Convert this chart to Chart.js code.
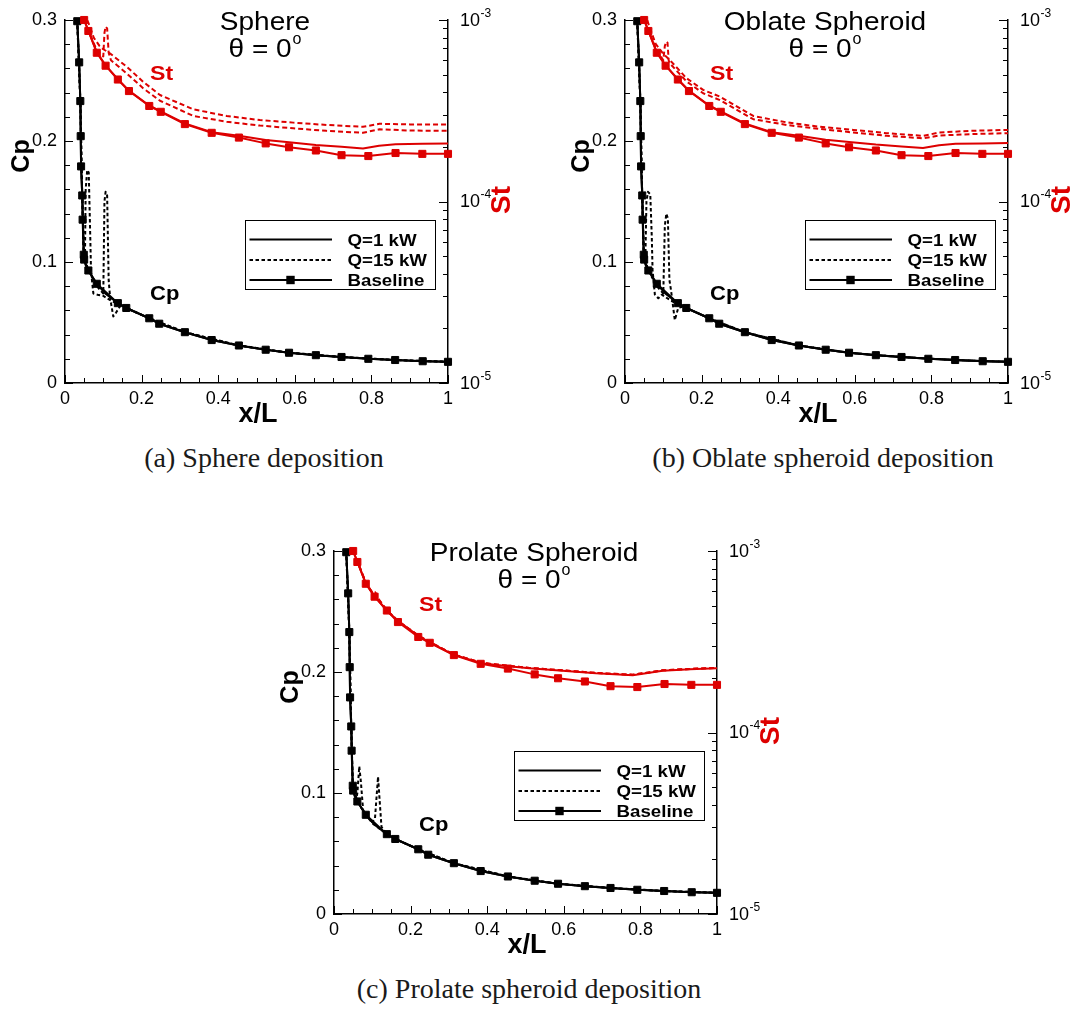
<!DOCTYPE html>
<html><head><meta charset="utf-8">
<script src="https://cdn.jsdelivr.net/npm/chart.js@4.4.0/dist/chart.umd.min.js"></script>
<style>
html,body{margin:0;padding:0;background:#fff;}
body{width:1082px;height:1011px;position:relative;overflow:hidden;}
.panel{position:absolute;width:520px;height:430px;}
.cap{position:absolute;font-family:"Liberation Serif","Times New Roman",serif;font-size:28px;line-height:28px;color:#1a1a1a;white-space:nowrap;transform:translateX(-50%);}
</style></head><body>
<div class="panel" style="left:0;top:0"><canvas id="ca" width="520" height="430"></canvas></div>
<div class="panel" style="left:560px;top:0"><canvas id="cb" width="520" height="430"></canvas></div>
<div class="panel" style="left:269px;top:531px"><canvas id="cc" width="520" height="430"></canvas></div>
<div class="cap" style="left:264px;top:444px">(a) Sphere deposition</div>
<div class="cap" style="left:823px;top:444px">(b) Oblate spheroid deposition</div>
<div class="cap" style="left:529px;top:975px">(c) Prolate spheroid deposition</div>
<script>
// ---------------- data ----------------
const panelTitles = ['Sphere', 'Oblate Spheroid', 'Prolate Spheroid'];
const legendLabels = ['Q=1 kW', 'Q=15 kW', 'Baseline'];
const xTicks = [0, 0.2, 0.4, 0.6, 0.8, 1];
const cpTicks = [0, 0.1, 0.2, 0.3];
const stDecades = [-5, -4, -3];

// Cp baseline (same for all panels)
const cpBaseX = [0.032,0.037,0.040,0.041,0.042,0.045,0.046,0.049,0.050,0.061,0.083,0.138,0.160,0.220,0.246,0.313,0.383,0.454,0.524,0.585,0.655,0.722,0.792,0.862,0.934,1.000];
const cpBase  = [0.299,0.265,0.233,0.204,0.179,0.155,0.135,0.106,0.102,0.093,0.082,0.066,0.062,0.0535,0.049,0.042,0.0355,0.031,0.0275,0.025,0.023,0.0215,0.020,0.019,0.018,0.0175];
// Cp Q=1 kW
const cpQ1X = [0.029,0.032,0.037,0.040,0.042,0.045,0.049,0.053,0.061,0.083,0.105,0.138,0.160,0.220,0.246,0.313,0.383,0.454,0.524,0.585,0.655,0.722,0.792,0.862,0.934,1.000];
const cpQ1  = [0.330,0.299,0.265,0.233,0.179,0.155,0.106,0.098,0.093,0.082,0.074,0.066,0.062,0.0535,0.049,0.042,0.0355,0.031,0.0275,0.025,0.023,0.0215,0.020,0.019,0.018,0.0175];
// Cp Q=15 kW, panel (a)
const cpQ15aX1 = [0.029,0.032,0.040,0.045,0.049,0.052,0.054,0.058,0.062,0.066,0.068,0.074,0.085,0.100,0.120,0.140,0.160,0.220,0.313,0.454,0.585,0.722,0.862,1.000];
const cpQ15a1  = [0.330,0.299,0.233,0.155,0.106,0.100,0.160,0.176,0.174,0.120,0.092,0.074,0.073,0.072,0.068,0.065,0.062,0.0535,0.042,0.031,0.025,0.0215,0.019,0.0175];
const cpQ15aX2 = [0.029,0.032,0.040,0.045,0.049,0.061,0.083,0.100,0.103,0.106,0.110,0.114,0.118,0.126,0.133,0.145,0.160,0.220,0.313,0.454,0.585,0.722,0.862,1.000];
const cpQ15a2  = [0.330,0.299,0.233,0.155,0.106,0.093,0.080,0.074,0.150,0.158,0.155,0.085,0.070,0.055,0.058,0.064,0.062,0.0535,0.042,0.031,0.025,0.0215,0.019,0.0175];
// Cp Q=15 kW, panel (b)
const cpQ15bX1 = [0.029,0.032,0.040,0.045,0.049,0.053,0.056,0.060,0.066,0.070,0.072,0.078,0.087,0.096,0.120,0.140,0.160,0.220,0.313,0.454,0.585,0.722,0.862,1.000];
const cpQ15b1  = [0.330,0.299,0.233,0.155,0.106,0.100,0.150,0.158,0.156,0.120,0.093,0.073,0.070,0.073,0.068,0.065,0.062,0.0535,0.042,0.031,0.025,0.0215,0.019,0.0175];
const cpQ15bX2 = [0.029,0.032,0.040,0.045,0.049,0.061,0.083,0.100,0.104,0.108,0.112,0.116,0.120,0.130,0.139,0.150,0.160,0.220,0.313,0.454,0.585,0.722,0.862,1.000];
const cpQ15b2  = [0.330,0.299,0.233,0.155,0.106,0.093,0.080,0.074,0.130,0.140,0.136,0.085,0.077,0.052,0.062,0.063,0.062,0.0535,0.042,0.031,0.025,0.0215,0.019,0.0175];
// Cp Q=15 kW, panel (c)
const cpQ15cX1 = [0.029,0.032,0.040,0.045,0.049,0.058,0.061,0.066,0.070,0.076,0.083,0.100,0.138,0.160,0.220,0.313,0.454,0.585,0.722,0.862,1.000];
const cpQ15c1  = [0.330,0.299,0.233,0.155,0.106,0.095,0.100,0.122,0.110,0.086,0.082,0.075,0.066,0.062,0.0535,0.042,0.031,0.025,0.0215,0.019,0.0175];
const cpQ15cX2 = [0.029,0.032,0.040,0.045,0.049,0.061,0.083,0.100,0.107,0.115,0.120,0.124,0.138,0.160,0.220,0.313,0.454,0.585,0.722,0.862,1.000];
const cpQ15c2  = [0.330,0.299,0.233,0.155,0.106,0.093,0.082,0.076,0.079,0.1135,0.090,0.072,0.066,0.062,0.0535,0.042,0.031,0.025,0.0215,0.019,0.0175];

// St baseline (same for all panels)
const stBaseX = [0.050,0.061,0.083,0.106,0.138,0.167,0.220,0.250,0.313,0.383,0.454,0.524,0.585,0.655,0.722,0.792,0.863,0.933,1.000];
const stBase  = [1.00e-3,8.7e-4,6.6e-4,5.6e-4,4.7e-4,4.06e-4,3.36e-4,3.12e-4,2.67e-4,2.39e-4,2.25e-4,2.09e-4,1.99e-4,1.91e-4,1.80e-4,1.78e-4,1.85e-4,1.83e-4,1.83e-4];
// St Q=1 kW
const stQ1aX = [0.047,0.050,0.061,0.083,0.106,0.138,0.167,0.220,0.250,0.313,0.383,0.454,0.524,0.585,0.655,0.722,0.778,0.820,0.863,0.933,1.000];
const stQ1a  = [1.1e-3,1.0e-3,8.75e-4,6.65e-4,5.62e-4,4.72e-4,4.08e-4,3.38e-4,3.14e-4,2.69e-4,2.41e-4,2.30e-4,2.18e-4,2.12e-4,2.05e-4,2.00e-4,1.96e-4,2.03e-4,2.07e-4,2.08e-4,2.09e-4];
const stQ1bX = [0.047,0.050,0.061,0.083,0.106,0.138,0.167,0.220,0.250,0.313,0.383,0.454,0.524,0.585,0.655,0.722,0.778,0.820,0.863,0.933,1.000];
const stQ1b  = [1.1e-3,1.0e-3,8.75e-4,6.65e-4,5.62e-4,4.72e-4,4.08e-4,3.38e-4,3.14e-4,2.69e-4,2.41e-4,2.30e-4,2.19e-4,2.13e-4,2.06e-4,2.01e-4,1.97e-4,2.04e-4,2.08e-4,2.09e-4,2.10e-4];
const stQ1cX = [0.047,0.050,0.061,0.083,0.106,0.138,0.167,0.220,0.250,0.313,0.385,0.456,0.510,0.597,0.684,0.780,0.858,0.930,1.000];
const stQ1c  = [1.1e-3,1.0e-3,8.75e-4,6.65e-4,5.62e-4,4.70e-4,4.12e-4,3.41e-4,3.14e-4,2.68e-4,2.41e-4,2.32e-4,2.26e-4,2.19e-4,2.12e-4,2.07e-4,2.19e-4,2.23e-4,2.26e-4];
// St Q=15 kW
const stQ15aX1 = [0.054,0.058,0.065,0.075,0.090,0.100,0.117,0.161,0.204,0.248,0.335,0.422,0.509,0.596,0.683,0.778,0.821,0.900,1.000];
const stQ15a1  = [1.1e-3,1.0e-3,9.2e-4,8.0e-4,7.2e-4,6.9e-4,6.56e-4,5.53e-4,4.57e-4,3.86e-4,3.22e-4,2.96e-4,2.81e-4,2.72e-4,2.64e-4,2.58e-4,2.68e-4,2.66e-4,2.66e-4];
const stQ15aX2 = [0.047,0.050,0.061,0.083,0.100,0.103,0.106,0.110,0.114,0.120,0.161,0.204,0.248,0.335,0.422,0.509,0.596,0.683,0.778,0.821,0.900,1.000];
const stQ15a2  = [1.1e-3,1.0e-3,8.8e-4,6.8e-4,6.3e-4,8.5e-4,9.2e-4,9.0e-4,6.6e-4,6.0e-4,5.08e-4,4.21e-4,3.59e-4,2.96e-4,2.75e-4,2.62e-4,2.53e-4,2.45e-4,2.39e-4,2.50e-4,2.46e-4,2.45e-4];
const stQ15bX1 = [0.054,0.058,0.065,0.080,0.100,0.117,0.161,0.204,0.248,0.335,0.422,0.509,0.596,0.683,0.779,0.821,0.900,1.000];
const stQ15b1  = [1.1e-3,1.0e-3,9.0e-4,7.4e-4,6.5e-4,6.02e-4,4.77e-4,4.12e-4,3.78e-4,2.96e-4,2.73e-4,2.58e-4,2.48e-4,2.38e-4,2.30e-4,2.40e-4,2.45e-4,2.48e-4];
const stQ15bX2 = [0.047,0.050,0.061,0.083,0.100,0.104,0.108,0.111,0.114,0.117,0.161,0.204,0.248,0.335,0.422,0.509,0.596,0.683,0.779,0.821,0.900,1.000];
const stQ15b2  = [1.1e-3,1.0e-3,8.8e-4,6.8e-4,6.0e-4,7.2e-4,7.6e-4,7.5e-4,6.0e-4,5.77e-4,4.58e-4,3.95e-4,3.62e-4,2.84e-4,2.64e-4,2.51e-4,2.40e-4,2.30e-4,2.23e-4,2.31e-4,2.35e-4,2.38e-4];
const stQ15cX = [0.047,0.050,0.061,0.083,0.100,0.108,0.114,0.138,0.167,0.220,0.250,0.313,0.385,0.456,0.510,0.597,0.684,0.780,0.858,0.930,1.000];
const stQ15c  = [1.1e-3,1.0e-3,8.8e-4,6.7e-4,5.9e-4,5.9e-4,5.5e-4,4.72e-4,4.12e-4,3.42e-4,3.15e-4,2.69e-4,2.42e-4,2.33e-4,2.27e-4,2.20e-4,2.13e-4,2.08e-4,2.20e-4,2.24e-4,2.27e-4];

// ---------------- rendering ----------------
const RED = '#dd0000', BLK = '#000000';
const SANS = '"Liberation Sans", Arial, Helvetica, sans-serif';
const pts = (xs, ys) => xs.map((x, i) => ({x: x, y: ys[i]}));

function stext(ctx, s, x, y, font, color, align, sx, baseline) {
  ctx.save();
  ctx.font = font; ctx.fillStyle = color; ctx.textBaseline = baseline || 'alphabetic'; ctx.textAlign = 'left';
  const w = ctx.measureText(s).width * sx;
  const x0 = align === 'center' ? x - w / 2 : (align === 'right' ? x - w : x);
  ctx.translate(x0, y); ctx.scale(sx, 1);
  ctx.fillText(s, 0, 0);
  ctx.restore();
  return w;
}
function seg(ctx, x1, y1, x2, y2) { ctx.beginPath(); ctx.moveTo(x1, y1); ctx.lineTo(x2, y2); ctx.stroke(); }

const decor = {
  id: 'decor',
  afterDraw(chart) {
    const ctx = chart.ctx, a = chart.chartArea;
    const xs = chart.scales.x, ys = chart.scales.y, ls = chart.scales.y2;
    const title = chart.options.plugins.decor.title;
    ctx.save();
    ctx.strokeStyle = '#000'; ctx.lineWidth = 1;
    // inward ticks, bottom axis
    for (let i = 0; i <= 20; i++) {
      const px = Math.round(xs.getPixelForValue(i * 0.05)) + 0.5;
      seg(ctx, px, a.bottom, px, a.bottom - (i % 4 === 0 ? 8 : 5));
    }
    // left axis
    for (let i = 0; i <= 15; i++) {
      const py = Math.round(ys.getPixelForValue(i * 0.02)) + 0.5;
      seg(ctx, a.left, py, a.left + (i % 5 === 0 ? 8 : 5), py);
    }
    // right log axis
    for (const e of [-5, -4]) {
      for (let m = 1; m <= 9; m++) {
        const py = Math.round(ls.getPixelForValue(m * Math.pow(10, e))) + 0.5;
        seg(ctx, a.right, py, a.right - (m === 1 ? 9 : 5), py);
      }
    }
    { const py = Math.round(ls.getPixelForValue(1e-3)) + 0.5; seg(ctx, a.right, py, a.right - 9, py); }
    // right tick labels 10^e
    for (const e of stDecades) {
      const py = ls.getPixelForValue(Math.pow(10, e));
      const w = stext(ctx, '10', a.right + 12, py + 5.5, '18px ' + SANS, '#000', 'left', 1);
      stext(ctx, '-' + (-e), a.right + 12 + w + 0.5, py - 3.5, '12px ' + SANS, '#000', 'left', 1);
    }
    const cx = (a.left + a.right) / 2;
    // panel title
    stext(ctx, title, cx + 8.5, a.top + 9.5, '25px ' + SANS, '#000', 'center', 1.12);
    {
      const f1 = '25px ' + SANS, f2 = '16px ' + SANS;
      ctx.font = f1; const w1 = ctx.measureText('\u03B8 = 0').width * 1.12;
      ctx.font = f2; const w2 = ctx.measureText('o').width;
      const x0 = cx + 8.5 - (w1 + w2 + 1) / 2;
      stext(ctx, '\u03B8 = 0', x0, a.top + 36.5, f1, '#000', 'left', 1.12);
      stext(ctx, 'o', x0 + w1 + 1, a.top + 24, f2, '#000', 'left', 1);
    }
    // curve annotations
    stext(ctx, 'St', a.left + 85, a.top + 60, 'bold 21px ' + SANS, RED, 'left', 1.1);
    stext(ctx, 'Cp', a.left + 85, a.top + 279.5, 'bold 20px ' + SANS, '#000', 'left', 1.1);
    // axis titles
    stext(ctx, 'x/L', cx + 1.5, a.bottom + 38.5, 'bold 27px ' + SANS, '#000', 'center', 1);
    ctx.save(); ctx.translate(a.left - 43, a.top + 136); ctx.rotate(-Math.PI / 2);
    stext(ctx, 'Cp', 0, 0, 'bold 25px ' + SANS, '#000', 'center', 1, 'middle'); ctx.restore();
    ctx.save(); ctx.translate(a.right + 54, a.top + 180); ctx.rotate(-Math.PI / 2);
    stext(ctx, 'St', 0, 0, 'bold 28px ' + SANS, RED, 'center', 1, 'middle'); ctx.restore();
    // legend
    const bx = a.left + 180, by = a.top + 199.5, bw = 190, bh = 69;
    ctx.fillStyle = '#fff'; ctx.fillRect(bx, by, bw, bh);
    ctx.strokeStyle = '#000'; ctx.lineWidth = 1; ctx.strokeRect(Math.round(bx) + 0.5, Math.round(by) + 0.5, bw, bh);
    const rows = [by + 20, by + 40.5, by + 60.5];
    const lx1 = bx + 4.5, lx2 = bx + 87;
    ctx.lineWidth = 2; ctx.setLineDash([]); seg(ctx, lx1, rows[0], lx2, rows[0]);
    ctx.lineWidth = 2; ctx.setLineDash([3.5, 2.5]); seg(ctx, lx1, rows[1], lx2, rows[1]);
    ctx.setLineDash([]); ctx.lineWidth = 2; seg(ctx, lx1, rows[2], lx2, rows[2]);
    ctx.fillStyle = '#000'; ctx.fillRect(bx + 45.5 - 4.2, rows[2] - 4.2, 8.4, 8.4);
    legendLabels.forEach((t, i) => stext(ctx, t, bx + 102.5, rows[i] + 6, 'bold 17px ' + SANS, '#000', 'left', 1.1));
    ctx.restore();
  }
};

function lineDs(label, xs, ys, axis, color, opts) {
  return Object.assign({
    label: label, data: pts(xs, ys), yAxisID: axis, borderColor: color, backgroundColor: color,
    borderWidth: 2, pointRadius: 0, fill: false, tension: 0, borderJoinStyle: 'round', clip: 2
  }, opts || {});
}
const mark = {pointStyle: 'rect', pointRadius: 5, pointBorderWidth: 1, clip: 8};
const dashK = {borderDash: [3.5, 2.5], borderWidth: 2};
const dashR = {borderDash: [5, 3], borderWidth: 2};

function makeChart(id, title, cpD1, cpD2, stS, stD1, stD2) {
  const ds = [
    lineDs('St Baseline', stBaseX, stBase, 'y2', RED, Object.assign({pointBackgroundColor: RED, pointBorderColor: RED}, mark)),
    lineDs('Cp Baseline', cpBaseX, cpBase, 'y', BLK, Object.assign({pointBackgroundColor: BLK, pointBorderColor: BLK}, mark)),
    lineDs('St Q=1 kW', stS[0], stS[1], 'y2', RED),
    lineDs('Cp Q=1 kW', cpQ1X, cpQ1, 'y', BLK),
    lineDs('St Q=15 kW', stD1[0], stD1[1], 'y2', RED, dashR),
    lineDs('St Q=15 kW (2)', stD2[0], stD2[1], 'y2', RED, dashR),
    lineDs('Cp Q=15 kW', cpD1[0], cpD1[1], 'y', BLK, dashK),
    lineDs('Cp Q=15 kW (2)', cpD2[0], cpD2[1], 'y', BLK, dashK)
  ];
  const tickFont = {family: SANS, size: 18};
  return new Chart(document.getElementById(id), {
    type: 'line',
    data: {datasets: ds},
    options: {
      responsive: false, animation: false, devicePixelRatio: 1, events: [],
      layout: {padding: {top: 20, left: 0, right: 0, bottom: 0}},
      plugins: {legend: {display: false}, tooltip: {enabled: false}, decor: {title: title}},
      scales: {
        x: {type: 'linear', position: 'bottom', min: 0, max: 1,
            grid: {display: false, drawTicks: false}, border: {display: true, color: '#000', width: 1.5},
            ticks: {stepSize: 0.2, font: tickFont, color: '#000', padding: 5, maxRotation: 0, autoSkip: false,
                    callback: v => (Math.abs(v) < 1e-9 ? '0' : (Math.abs(v - 1) < 1e-9 ? '1' : v.toFixed(1)))},
            afterBuildTicks: s => { s.ticks = xTicks.map(v => ({value: v})); },
            afterFit: s => { s.height = 47; }},
        y: {type: 'linear', position: 'left', min: 0, max: 0.3,
            grid: {display: false, drawTicks: false}, border: {display: true, color: '#000', width: 1.5},
            ticks: {stepSize: 0.1, font: tickFont, color: '#000', padding: 8,
                    callback: v => (Math.abs(v) < 1e-9 ? '0' : v.toFixed(1))},
            afterBuildTicks: s => { s.ticks = cpTicks.map(v => ({value: v})); },
            afterFit: s => { s.width = 65; }},
        y2: {type: 'logarithmic', position: 'right', min: 1e-5, max: 1e-3,
             grid: {display: false, drawTicks: false}, border: {display: true, color: '#000', width: 1.5},
             ticks: {display: false},
             afterFit: s => { s.width = 72; }}
      }
    },
    plugins: [decor]
  });
}

makeChart('ca', panelTitles[0], [cpQ15aX1, cpQ15a1], [cpQ15aX2, cpQ15a2], [stQ1aX, stQ1a], [stQ15aX1, stQ15a1], [stQ15aX2, stQ15a2]);
makeChart('cb', panelTitles[1], [cpQ15bX1, cpQ15b1], [cpQ15bX2, cpQ15b2], [stQ1bX, stQ1b], [stQ15bX1, stQ15b1], [stQ15bX2, stQ15b2]);
makeChart('cc', panelTitles[2], [cpQ15cX1, cpQ15c1], [cpQ15cX2, cpQ15c2], [stQ1cX, stQ1c], [stQ15cX, stQ15c], [stQ15cX, stQ15c]);
</script>
</body></html>
